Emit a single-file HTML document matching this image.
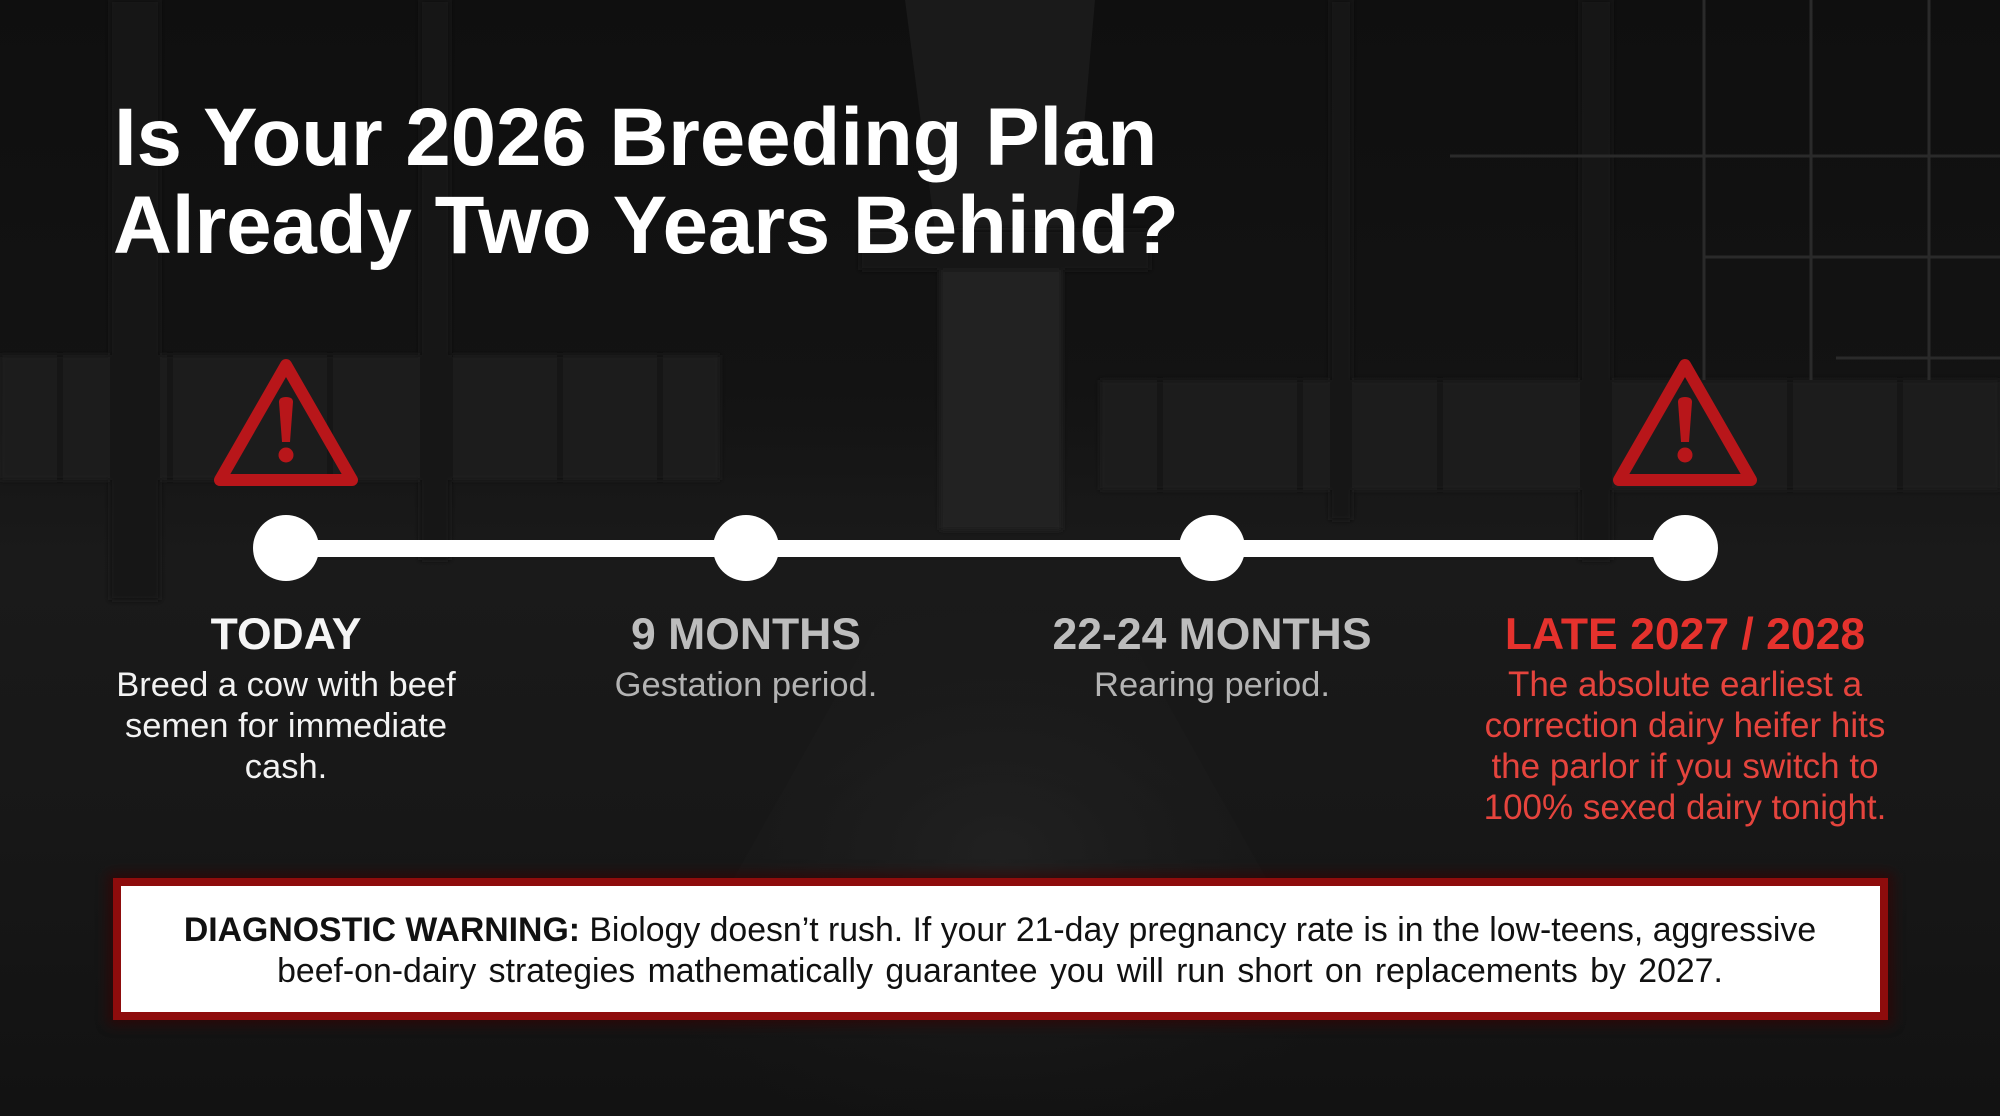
<!DOCTYPE html>
<html><head><meta charset="utf-8">
<style>
html,body{margin:0;padding:0;background:#141414;}
body{width:2000px;height:1116px;overflow:hidden;}
svg{display:block;}
text{font-family:"Liberation Sans",Arial,sans-serif;}
</style></head>
<body>
<svg width="2000" height="1116" viewBox="0 0 2000 1116" xmlns="http://www.w3.org/2000/svg">
<defs>
<linearGradient id="bg" x1="0" y1="0" x2="0" y2="1">
<stop offset="0" stop-color="#0f0f0f"/>
<stop offset="0.35" stop-color="#131313"/>
<stop offset="0.5" stop-color="#1a1a1a"/>
<stop offset="0.75" stop-color="#171717"/>
<stop offset="1" stop-color="#121212"/>
</linearGradient>
<radialGradient id="aisle" cx="0.5" cy="0.55" r="0.5">
<stop offset="0" stop-color="#232323" stop-opacity="0.8"/>
<stop offset="1" stop-color="#1a1a1a" stop-opacity="0"/>
</radialGradient>
<filter id="blur6"><feGaussianBlur stdDeviation="6"/></filter>
<filter id="blur3"><feGaussianBlur stdDeviation="3"/></filter>
</defs>
<rect width="2000" height="1116" fill="url(#bg)"/>
<!-- ceiling skylight -->
<polygon points="905,0 1095,0 1075,230 935,230" fill="#1a1a1a"/>
<!-- side window bands -->
<g filter="url(#blur3)">
<rect x="0" y="355" width="720" height="125" fill="#1f1f1f"/>
<rect x="1100" y="380" width="900" height="110" fill="#1f1f1f"/>
<g stroke="#161616" stroke-width="6">
<line x1="60" y1="355" x2="60" y2="480"/><line x1="170" y1="355" x2="170" y2="480"/>
<line x1="330" y1="355" x2="330" y2="480"/><line x1="450" y1="355" x2="450" y2="480"/>
<line x1="560" y1="355" x2="560" y2="480"/><line x1="660" y1="355" x2="660" y2="480"/>
<line x1="1160" y1="380" x2="1160" y2="490"/><line x1="1300" y1="380" x2="1300" y2="490"/>
<line x1="1440" y1="380" x2="1440" y2="490"/><line x1="1790" y1="380" x2="1790" y2="490"/>
<line x1="1900" y1="380" x2="1900" y2="490"/>
</g>
<!-- pillars -->
<g fill="#171717">
<rect x="110" y="0" width="50" height="600"/>
<rect x="420" y="0" width="30" height="560"/>
<rect x="1580" y="0" width="32" height="560"/>
<rect x="1330" y="0" width="22" height="520"/>
</g>
<!-- center door -->
<rect x="940" y="265" width="122" height="265" fill="#202020"/>
<rect x="860" y="230" width="290" height="40" fill="#191919"/>
</g>
<!-- right grid -->
<g stroke="#2a2a2a" stroke-width="3">
<line x1="1704" y1="0" x2="1704" y2="380"/>
<line x1="1811" y1="0" x2="1811" y2="380"/>
<line x1="1929" y1="0" x2="1929" y2="380"/>
<line x1="1450" y1="156" x2="2000" y2="156"/>
<line x1="1705" y1="257" x2="2000" y2="257"/>
<line x1="1836" y1="358" x2="2000" y2="358"/>
</g>
<!-- floor aisle -->
<polygon points="930,530 1070,530 1400,1116 600,1116" fill="url(#aisle)"/>

<!-- Title -->
<text x="114" y="165" font-size="81.5" font-weight="bold" fill="#ffffff">Is Your 2026 Breeding Plan</text>
<text x="113" y="253" font-size="81.5" font-weight="bold" fill="#ffffff">Already Two Years Behind?</text>

<!-- Warning triangles -->
<g>
<polygon points="286,365 220,480 352,480" fill="none" stroke="#b8161a" stroke-width="12" stroke-linejoin="round"/>
<path d="M279,402 Q279,397 286,397 Q293,397 293,402 L290,442 L282,442 Z" fill="#b8161a"/>
<circle cx="286" cy="455" r="7.5" fill="#b8161a"/>
</g>
<g transform="translate(1399,0)">
<polygon points="286,365 220,480 352,480" fill="none" stroke="#b8161a" stroke-width="12" stroke-linejoin="round"/>
<path d="M279,402 Q279,397 286,397 Q293,397 293,402 L290,442 L282,442 Z" fill="#b8161a"/>
<circle cx="286" cy="455" r="7.5" fill="#b8161a"/>
</g>

<!-- Timeline -->
<rect x="286" y="540" width="1399" height="17" fill="#ffffff"/>
<circle cx="286" cy="548" r="33" fill="#ffffff"/>
<circle cx="746" cy="548" r="33" fill="#ffffff"/>
<circle cx="1212" cy="548" r="33" fill="#ffffff"/>
<circle cx="1685" cy="548" r="33" fill="#ffffff"/>

<!-- Labels -->
<g font-size="44.5" font-weight="bold" text-anchor="middle">
<text x="286" y="649" fill="#f5f5f5">TODAY</text>
<text x="746" y="649" fill="#bdbdbd">9 MONTHS</text>
<text x="1212" y="649" fill="#bdbdbd">22-24 MONTHS</text>
<text x="1685" y="649" fill="#e5322d">LATE 2027 / 2028</text>
</g>
<g font-size="34.5" text-anchor="middle">
<text x="286" y="696" fill="#f2f2f2">Breed a cow with beef</text>
<text x="286" y="737" fill="#f2f2f2">semen for immediate</text>
<text x="286" y="778" fill="#f2f2f2">cash.</text>
<text x="746" y="696" fill="#b3b3b3">Gestation period.</text>
<text x="1212" y="696" fill="#b3b3b3">Rearing period.</text>
</g>
<g font-size="35" text-anchor="middle" fill="#e5443d">
<text x="1685" y="696">The absolute earliest a</text>
<text x="1685" y="737">correction dairy heifer hits</text>
<text x="1685" y="778">the parlor if you switch to</text>
<text x="1685" y="819">100% sexed dairy tonight.</text>
</g>

<!-- Diagnostic box -->
<rect x="108" y="873" width="1785" height="152" fill="#3a0505" opacity="0.6" filter="url(#blur6)"/>
<rect x="113" y="878" width="1775" height="142" fill="#8e0c0c"/>
<rect x="121" y="886" width="1759" height="126" fill="#ffffff"/>
<g font-size="33.8" text-anchor="middle" fill="#111111">
<text x="1000" y="941"><tspan font-weight="bold">DIAGNOSTIC WARNING:</tspan> Biology doesn’t rush. If your 21-day pregnancy rate is in the low-teens, aggressive</text>
<text x="1000" y="982" word-spacing="3">beef-on-dairy strategies mathematically guarantee you will run short on replacements by 2027.</text>
</g>
</svg>
</body></html>
